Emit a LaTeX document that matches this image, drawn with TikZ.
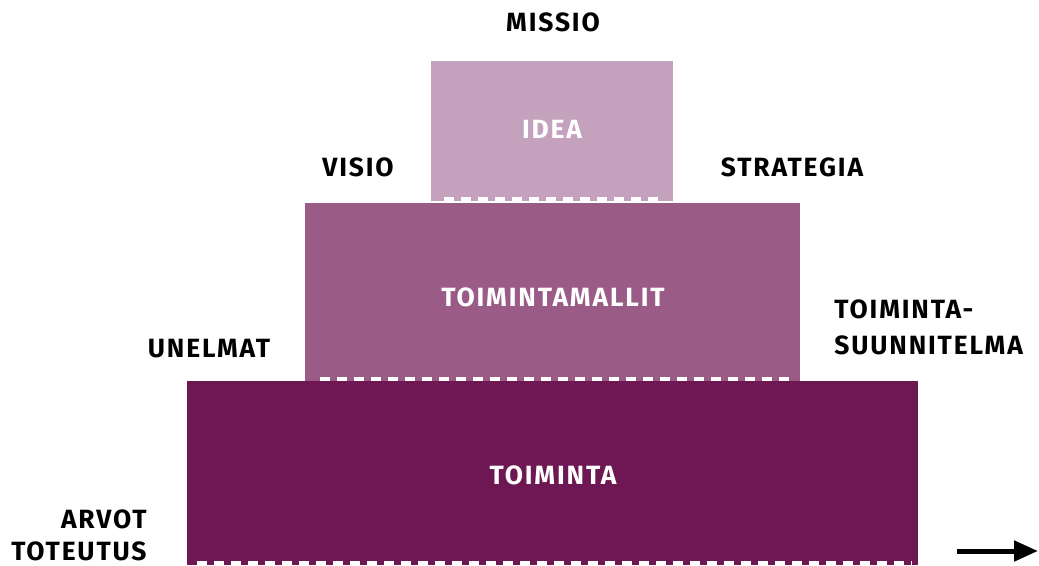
\documentclass[tikz,border=0pt]{standalone}
\usepackage{fontspec}
\setmainfont{Fira Sans}
\usepackage{xcolor}
\usepackage{tikz}
\usetikzlibrary{positioning,calc,arrows.meta}

\definecolor{ideacol}{HTML}{C4A1BC}
\definecolor{mallicol}{HTML}{9A5C87}
\definecolor{toimcol}{HTML}{6D1853}

\tikzset{
    lbl/.style={font=\fontsize{13.2}{16}\selectfont\addfontfeatures{LetterSpace=7}\bfseries, inner sep=0pt},
    wlbl/.style={lbl, text=white},
    cut/.style={white, line width=2pt, dash pattern=on 5pt off 3.5pt}
}

\begin{document}
\begin{tikzpicture}[x=0.5pt,y=-0.5pt]
        \useasboundingbox (0,0) rectangle (1039,566);
        % boxes
        \fill[ideacol] (431,61) rectangle (673,201);
        \fill[mallicol] (305,203) rectangle (800,381);
        \fill[toimcol] (187,381) rectangle (918,565);
        \draw[cut] (444,199) -- (662,199);
        \draw[cut] (320,379) -- (792,379);
        \draw[cut] (197,563) -- (912,563);
        % texts
        \node[lbl] (missio) at (553,22) {MISSIO};
        \node[wlbl] (idea) at (552,129) {IDEA};
        \node[lbl] (visio) at (358,167) {VISIO};
        \node[lbl] (strategia) at (792,167) {STRATEGIA};
        \node[wlbl] (mallit) at (553,297) {TOIMINTAMALLIT};
        \node[lbl, anchor=west] (tsuunn1) at (834,309) {TOIMINTA-};
        \node[lbl, anchor=west] (tsuunn2) at (834,345) {SUUNNITELMA};
        \node[lbl] (unelmat) at (209,349) {UNELMAT};
        \node[wlbl] (toiminta) at (553,475) {TOIMINTA};
        \node[lbl, anchor=east] (arvot) at (147,519) {ARVOT};
        \node[lbl, anchor=east] (toteutus) at (147,551) {TOTEUTUS};
        % arrow
        \coordinate (arrS) at (957,551);
        \coordinate (arrE) at (1038,551);
        \draw[line width=2.5pt, -{Triangle[length=12pt,width=10pt]}] (arrS) -- (arrE);
    \end{tikzpicture}
\end{document}
